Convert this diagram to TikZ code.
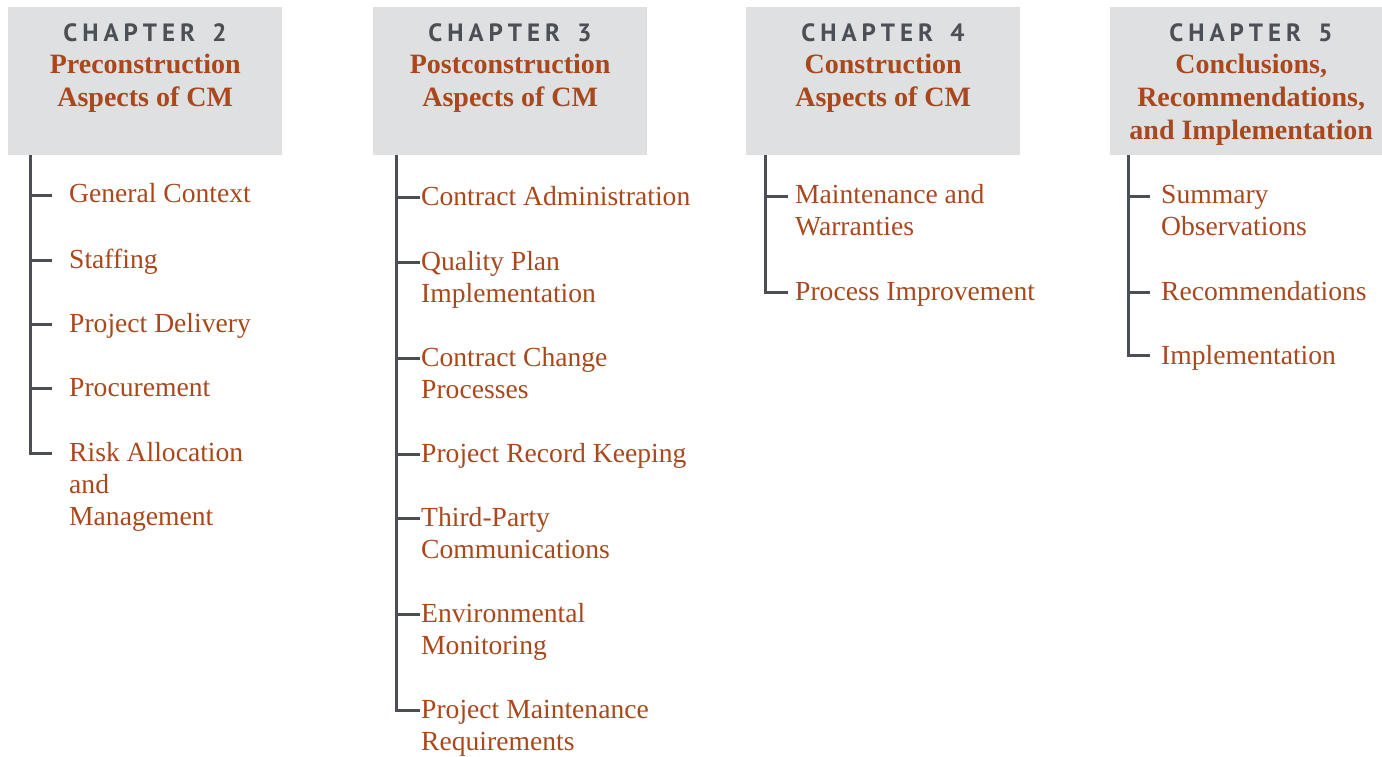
\documentclass[tikz,border=0pt]{standalone}
\usepackage{fontspec}
\setmainfont{Liberation Serif}
\newfontfamily\chapfont[LetterSpace=20]{PT Sans}
\definecolor{boxgray}{HTML}{DFE0E2}
\definecolor{chapgray}{HTML}{4B4F56}
\definecolor{rust}{HTML}{A9481C}
\definecolor{linegray}{HTML}{4A4E55}
\newcommand\ctr[2]{\hbox to #1pt{\hss#2\hss}}
\tikzset{
  box/.style={fill=boxgray, inner sep=0pt, anchor=north west, minimum height=148pt},
  chap/.style={font=\chapfont\bfseries\fontsize{25}{30}\selectfont, text=chapgray, anchor=base, inner sep=0pt},
  ttl/.style={font=\bfseries\fontsize{28}{33}\selectfont, text=rust, anchor=base west, inner sep=0pt},
  item/.style={font=\fontsize{27.6}{32}\selectfont, text=rust, anchor=base west, inner sep=0pt},
  tree/.style={draw=linegray, line width=3pt},
}
\begin{document}
\begin{tikzpicture}[x=1pt,y=-1pt]
\useasboundingbox (0,0) rectangle (1382,757);
% ---------- boxes
\node[box, minimum width=274pt] (h2) at (8,7) {};
\node[box, minimum width=274pt] (h3) at (373,7) {};
\node[box, minimum width=274pt] (h4) at (746,7) {};
\node[box, minimum width=272pt] (h5) at (1110,7) {};
% ---------- chapter labels
\node[chap] (l2) at (145,42) {CHAPTER\hspace{6pt} 2};
\node[chap] (l3) at (510,42) {CHAPTER\hspace{6pt} 3};
\node[chap] (l4) at (883,42) {CHAPTER\hspace{6pt} 4};
\node[chap] (l5) at (1251,42) {CHAPTER\hspace{6pt} 5};
% ---------- titles
\node[ttl] (t2) at (8,74) {\vtop{\ctr{274}{Preconstruction}\ctr{274}{Aspects of CM}}};
\node[ttl] (t3) at (373,74) {\vtop{\ctr{274}{Postconstruction}\ctr{274}{Aspects of CM}}};
\node[ttl] (t4) at (746,74) {\vtop{\ctr{274}{Construction}\ctr{274}{Aspects of CM}}};
\node[ttl] (t5) at (1110,74) {\vtop{\ctr{282}{Conclusions,}\ctr{282}{Recommendations,}\ctr{282}{and Implementation}}};
% ---------- chapter 2 items
\node[item] (c2a) at (69,203) {General Context};
\node[item] (c2b) at (69,268) {Staffing};
\node[item] (c2c) at (69,332) {Project Delivery};
\node[item] (c2d) at (69,396) {Procurement};
\node[item] (c2e) at (69,461) {\vtop{\hbox{Risk Allocation}\hbox{and}\hbox{Management}}};
% ---------- chapter 3 items
\node[item] (c3a) at (421,205) {Contract Administration};
\node[item] (c3b) at (421,270) {\vtop{\hbox{Quality Plan}\hbox{Implementation}}};
\node[item] (c3c) at (421,366) {\vtop{\hbox{Contract Change}\hbox{Processes}}};
\node[item] (c3d) at (421,462) {Project Record Keeping};
\node[item] (c3e) at (421,526) {\vtop{\hbox{Third-Party}\hbox{Communications}}};
\node[item] (c3f) at (421,622) {\vtop{\hbox{Environmental}\hbox{Monitoring}}};
\node[item] (c3g) at (421,718) {\vtop{\hbox{Project Maintenance}\hbox{Requirements}}};
% ---------- chapter 4 items
\node[item] (c4a) at (795,204) {\vtop{\hbox{Maintenance and}\hbox{Warranties}}};
\node[item] (c4b) at (795,300) {Process Improvement};
% ---------- chapter 5 items
\node[item] (c5a) at (1161,204) {\vtop{\hbox{Summary}\hbox{Observations}}};
\node[item] (c5b) at (1161,300) {Recommendations};
\node[item] (c5c) at (1161,364) {Implementation};
% ---------- tree coordinates
\coordinate (k2) at (30,0);
\coordinate (a2) at (52,195);
\coordinate (b2) at (52,260);
\coordinate (c2) at (52,324);
\coordinate (d2) at (52,388);
\coordinate (e2) at (52,453);
\coordinate (k3) at (396,0);
\coordinate (a3) at (420,197);
\coordinate (b3) at (420,262);
\coordinate (c3) at (420,358);
\coordinate (d3) at (420,454);
\coordinate (e3) at (420,518);
\coordinate (f3) at (420,614);
\coordinate (g3) at (420,710);
\coordinate (k4) at (765,0);
\coordinate (a4) at (788,196);
\coordinate (b4) at (788,292);
\coordinate (k5) at (1128,0);
\coordinate (a5) at (1150,196);
\coordinate (b5) at (1150,292);
\coordinate (c5) at (1150,355);
% ---------- trees
\draw[tree] (h2.south -| k2) |- (e2);
\foreach \t in {a2,b2,c2,d2} \draw[tree] (\t -| k2) -- (\t);
\draw[tree] (h3.south -| k3) |- (g3);
\foreach \t in {a3,b3,c3,d3,e3,f3} \draw[tree] (\t -| k3) -- (\t);
\draw[tree] (h4.south -| k4) |- (b4);
\draw[tree] (a4 -| k4) -- (a4);
\draw[tree] (h5.south -| k5) |- (c5);
\foreach \t in {a5,b5} \draw[tree] (\t -| k5) -- (\t);
\end{tikzpicture}
\end{document}
